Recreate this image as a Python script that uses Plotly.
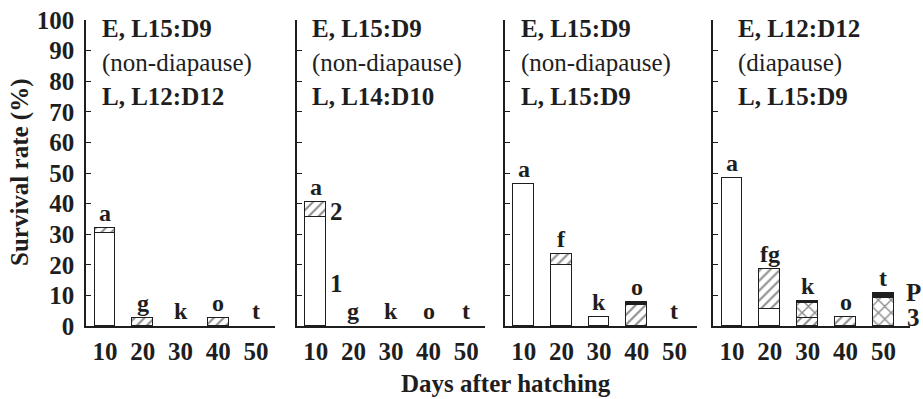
import plotly.graph_objects as go

days = [10, 20, 30, 40, 50]

# segment values (survival %) per panel: 1 = white, 2 = hatched, 3 = cross-hatched, P = black
p1_s1 = [30.5, 0, 0, 0, 0]
p1_s2 = [1.5, 2.5, 0, 2.5, 0]
p1_s3 = [0, 0, 0, 0, 0]
p1_sP = [0, 0, 0, 0, 0]

p2_s1 = [35.5, 0, 0, 0, 0]
p2_s2 = [5.0, 0, 0, 0, 0]
p2_s3 = [0, 0, 0, 0, 0]
p2_sP = [0, 0, 0, 0, 0]

p3_s1 = [46.5, 20.0, 3.0, 0, 0]
p3_s2 = [0, 3.5, 0, 7.0, 0]
p3_s3 = [0, 0, 0, 0, 0]
p3_sP = [0, 0, 0, 0.8, 0]

p4_s1 = [48.5, 5.5, 0, 0, 0]
p4_s2 = [0, 13.0, 2.5, 3.0, 0]
p4_s3 = [0, 0, 5.0, 0, 9.0]
p4_sP = [0, 0, 0.7, 0, 1.8]

p1_letters = ["a", "g", "k", "o", "t"]
p2_letters = ["a", "g", "k", "o", "t"]
p3_letters = ["a", "f", "k", "o", "t"]
p4_letters = ["a", "fg", "k", "o", "t"]

p1_text = ["E, L15:D9", "(non-diapause)", "L, L12:D12"]
p2_text = ["E, L15:D9", "(non-diapause)", "L, L14:D10"]
p3_text = ["E, L15:D9", "(non-diapause)", "L, L15:D9"]
p4_text = ["E, L12:D12", "(diapause)", "L, L15:D9"]

y_ticks = [0, 10, 20, 30, 40, 50, 60, 70, 80, 90, 100]

panels = [
    (p1_s1, p1_s2, p1_s3, p1_sP, p1_letters, p1_text),
    (p2_s1, p2_s2, p2_s3, p2_sP, p2_letters, p2_text),
    (p3_s1, p3_s2, p3_s3, p3_sP, p3_letters, p3_text),
    (p4_s1, p4_s2, p4_s3, p4_sP, p4_letters, p4_text),
]

W, H = 923, 399
INK = "#1e1e1e"
FONT = "Liberation Serif, Times New Roman, serif"
FS = 25

# panel pixel geometry (left, right) and x ranges
px_lr = [(86, 275), (297, 485), (505, 697), (713, 910)]
x_ranges = [[5, 55], [5, 55], [5, 56], [5, 57]]
text_left = [100, 310, 519, 736]
text_rows = [29, 63, 96]
y_bot, y_top = 326, 20

fig = go.Figure()

def nz(v):
    return [x if x else None for x in v]

LINE = dict(color=INK, width=1.5)
annotations = []
for i, (s1, s2, s3, sP, letters, txt) in enumerate(panels):
    xa = "x" if i == 0 else f"x{i+1}"
    ya = "y" if i == 0 else f"y{i+1}"
    fig.add_trace(go.Bar(y=nz(s1), x=days, width=5.5, xaxis=xa, yaxis=ya, showlegend=False,
                         marker=dict(color="white", line=LINE)))
    fig.add_trace(go.Bar(y=nz(s2), x=days, width=5.5, xaxis=xa, yaxis=ya, showlegend=False,
                         marker=dict(color="white", line=LINE,
                                     pattern=dict(shape="/", fgcolor=INK, bgcolor="white",
                                                  size=7, solidity=0.3))))
    fig.add_trace(go.Bar(y=nz(s3), x=days, width=5.5, xaxis=xa, yaxis=ya, showlegend=False,
                         marker=dict(color="white", line=LINE,
                                     pattern=dict(shape="x", fgcolor=INK, bgcolor="white",
                                                  size=9, solidity=0.3))))
    fig.add_trace(go.Bar(y=nz(sP), x=days, width=5.5, xaxis=xa, yaxis=ya, showlegend=False,
                         marker=dict(color=INK, line=LINE)))

    totals = [a + b + c + d for a, b, c, d in zip(s1, s2, s3, sP)]
    for d, t, lab in zip(days, totals, letters):
        annotations.append(dict(x=d, y=t, xref=xa, yref=ya, text=f"<b>{lab}</b>",
                                showarrow=False, xanchor="center", yanchor="bottom", yshift=0,
                                font=dict(family=FONT, size=FS - 1, color=INK)))
    for row, (line, yy) in enumerate(zip(txt, text_rows)):
        t = line if row == 1 else f"<b>{line}</b>"
        annotations.append(dict(x=text_left[i] / W, y=1 - yy / H, xref="paper", yref="paper",
                                text=t, showarrow=False, xanchor="left", yanchor="middle",
                                font=dict(family=FONT, size=FS, color=INK)))

    l, r = px_lr[i]
    xkey = "xaxis" if i == 0 else f"xaxis{i+1}"
    ykey = "yaxis" if i == 0 else f"yaxis{i+1}"
    fig.layout[xkey] = dict(domain=[l / W, r / W], range=x_ranges[i], anchor=ya,
                            tickvals=days, ticktext=[f"<b>{d}</b>" for d in days],
                            ticks="", showline=True, linecolor=INK, automargin=False,
                            linewidth=1.5, showgrid=False, zeroline=False,
                            ticklabelstandoff=2,
                            tickfont=dict(family=FONT, size=FS, color=INK))
    fig.layout[ykey] = dict(domain=[1 - y_bot / H, 1 - y_top / H], range=[0, 100], anchor=xa,
                            tickvals=y_ticks, ticktext=[f"<b>{v}</b>" for v in y_ticks],
                            ticks="inside", ticklen=5, tickcolor=INK, automargin=False,
                            showline=True, linecolor=INK, linewidth=1.5, showgrid=False,
                            zeroline=False, showticklabels=(i == 0),
                            ticklabelstandoff=5,
                            tickfont=dict(family=FONT, size=FS, color=INK))

# segment key labels and axis titles
annotations += [
    dict(x=15.5, y=37.5, xref="x2", yref="y2", text="<b>2</b>", showarrow=False,
         xanchor="center", yanchor="middle", font=dict(family=FONT, size=FS, color=INK)),
    dict(x=15.5, y=14, xref="x2", yref="y2", text="<b>1</b>", showarrow=False,
         xanchor="center", yanchor="middle", font=dict(family=FONT, size=FS, color=INK)),
    dict(x=913 / W, y=11, xref="paper", yref="y4", text="<b>P</b>", showarrow=False,
         xanchor="center", yanchor="middle", font=dict(family=FONT, size=FS, color=INK)),
    dict(x=913 / W, y=2.8, xref="paper", yref="y4", text="<b>3</b>", showarrow=False,
         xanchor="center", yanchor="middle", font=dict(family=FONT, size=FS, color=INK)),
    dict(x=20 / W, y=1 - 173 / H, xref="paper", yref="paper", text="<b>Survival rate (%)</b>",
         textangle=-90, showarrow=False, xanchor="center", yanchor="middle",
         font=dict(family=FONT, size=FS, color=INK)),
    dict(x=506 / W, y=1 - 383 / H, xref="paper", yref="paper", text="<b>Days after hatching</b>",
         showarrow=False, xanchor="center", yanchor="middle",
         font=dict(family=FONT, size=FS, color=INK)),
]

fig.update_layout(width=W, height=H, margin=dict(l=0, r=0, t=0, b=0, pad=0, autoexpand=False),
                  paper_bgcolor="white", plot_bgcolor="white", barmode="stack",
                  bargap=0, annotations=annotations,
                  font=dict(family=FONT, size=FS, color=INK))

fig.write_html("out.html")
